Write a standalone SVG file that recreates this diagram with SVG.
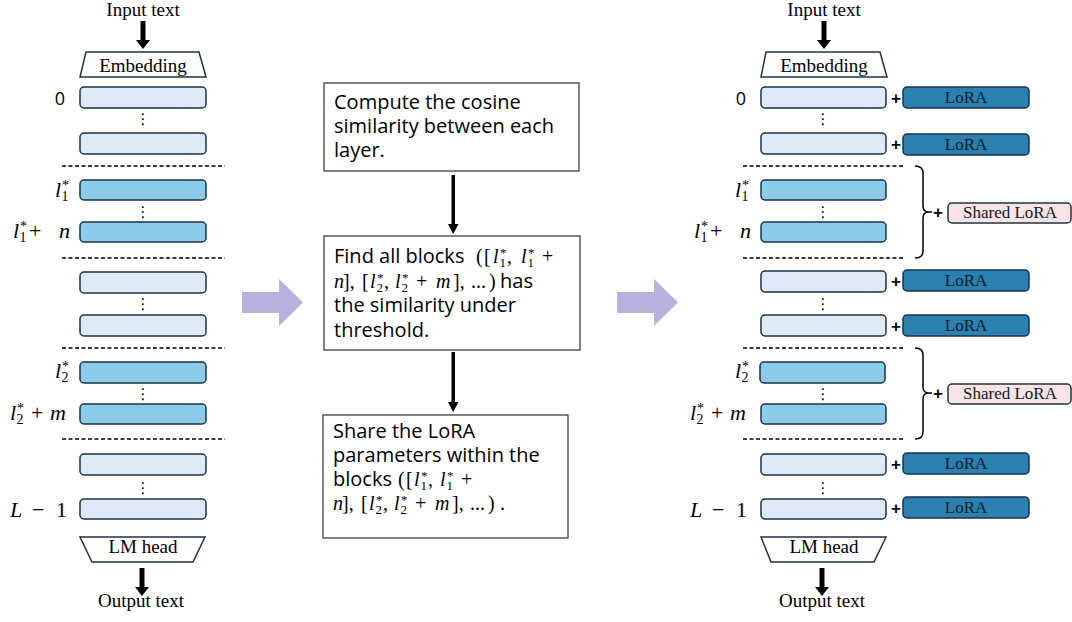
<svg xmlns="http://www.w3.org/2000/svg" width="1072" height="622" viewBox="0 0 1072 622">
<style>
.ser{font-family:"Liberation Serif","Times New Roman",serif;font-size:19px;fill:#000}
.lay{stroke:#1b3347;stroke-width:1.5}
.lt{fill:#dfeaf8}
.md{fill:#8ccbea}
.lora{fill:#2a80b0;stroke:#1b3347;stroke-width:1.5}
.shr{fill:#fce4e4;stroke:#1b3347;stroke-width:1.5}
.lt2{font-family:"Liberation Serif","Times New Roman",serif;font-size:17px;fill:#0c1a28;text-anchor:middle}
.trap{fill:#fff;stroke:#1b3347;stroke-width:1.5}
.dash{stroke:#000;stroke-width:1.3;stroke-dasharray:4 2.5;fill:none}
.dots{font-family:"DejaVu Sans",sans-serif;font-size:15px;text-anchor:middle;fill:#000}
.sans{font-family:"Open Sans","Liberation Sans",sans-serif;font-size:20px;fill:#000}
.num{font-family:"Open Sans","Liberation Sans",sans-serif;font-size:18px;fill:#000}
.m{font-family:"Liberation Serif","Times New Roman",serif;font-size:22px;fill:#000}
.mi{font-style:italic}
.sb{font-size:14px;font-style:normal}
.mb{font-family:"Liberation Serif","Times New Roman",serif;font-size:20px;fill:#000}
.mb .sb{font-size:13px}
.plus{font-family:"Liberation Sans",Arial,sans-serif;font-size:17px;font-weight:bold;fill:#000;text-anchor:middle}
.step{fill:#fff;stroke:#404040;stroke-width:1.3}
.big{fill:#b6b1de}
.brace{fill:none;stroke:#000;stroke-width:1.5}
</style>

<!-- LEFT COLUMN -->
<g id="left-input"><text class="ser" x="143" y="16" text-anchor="middle">Input text</text></g>
<g id="left-embedding"><polygon class="trap" points="86,52 199,52 206,77 80,77"/><text class="ser" x="143" y="72" text-anchor="middle">Embedding</text></g>
<g id="left-layer0"><rect class="lay lt" x="80" y="87" width="126" height="21" rx="4"/><text class="num" x="60" y="105" text-anchor="middle">0</text></g>
<text class="dots" x="143" y="124">⋮</text>
<g id="left-layer1"><rect class="lay lt" x="80" y="133" width="126" height="21" rx="4"/></g>
<g id="left-l1"><rect class="lay md" x="80" y="180" width="126" height="20" rx="4"/>
<text class="m"><tspan class="mi" x="55" y="197">l</tspan><tspan class="sb" x="61.5" y="201">1</tspan><tspan class="sb" x="62" y="190">*</tspan></text></g>
<text class="dots" x="143" y="217">⋮</text>
<g id="left-l1n"><rect class="lay md" x="80" y="222" width="126" height="20" rx="4"/>
<text class="m"><tspan class="mi" x="13" y="238">l</tspan><tspan class="sb" x="19.5" y="242">1</tspan><tspan class="sb" x="20" y="231">*</tspan><tspan x="29" y="238">+</tspan><tspan class="mi" x="59" y="238">n</tspan></text></g>
<g id="left-layer-a"><rect class="lay lt" x="80" y="272" width="126" height="21" rx="4"/></g>
<text class="dots" x="143" y="309">⋮</text>
<g id="left-layer-b"><rect class="lay lt" x="80" y="315" width="126" height="21" rx="4"/></g>
<g id="left-l2"><rect class="lay md" x="80" y="362" width="126" height="21" rx="4"/>
<text class="m"><tspan class="mi" x="55" y="378">l</tspan><tspan class="sb" x="61.5" y="382">2</tspan><tspan class="sb" x="62" y="371">*</tspan></text></g>
<text class="dots" x="143" y="399">⋮</text>
<g id="left-l2m"><rect class="lay md" x="80" y="404" width="126" height="20" rx="4"/>
<text class="m"><tspan class="mi" x="10" y="420">l</tspan><tspan class="sb" x="16.5" y="424">2</tspan><tspan class="sb" x="17" y="413">*</tspan><tspan x="31" y="420">+</tspan><tspan class="mi" x="50" y="420">m</tspan></text></g>
<g id="left-layer-c"><rect class="lay lt" x="80" y="454" width="126" height="21" rx="4"/></g>
<text class="dots" x="143" y="493">⋮</text>
<g id="left-layerL"><rect class="lay lt" x="80" y="499" width="126" height="20" rx="4"/>
<text class="m"><tspan class="mi" x="10" y="517">L</tspan><tspan x="32" y="517">−</tspan><tspan x="56" y="517">1</tspan></text></g>
<g id="left-lmhead"><polygon class="trap" points="80,537 205,537 193,562 92,562"/><text class="ser" x="143" y="553" text-anchor="middle">LM head</text></g>
<g id="left-output"><text class="ser" x="141" y="607" text-anchor="middle">Output text</text></g>

<!-- CENTER STEPS -->
<g id="step1"><rect class="step" x="324" y="83" width="255" height="88"/>
<text class="sans" x="334" y="109">Compute the cosine</text>
<text class="sans" x="334" y="133">similarity between each</text>
<text class="sans" x="334" y="157">layer.</text></g>
<g id="step2"><rect class="step" x="324" y="236" width="256" height="114"/>
<text class="sans" x="334" y="263">Find all blocks</text>
<text class="mb"><tspan x="476" y="263">(</tspan><tspan x="484" y="263">[</tspan><tspan class="mi" x="493" y="263">l</tspan><tspan class="sb" x="499.5" y="267">1</tspan><tspan class="sb" x="500" y="257">*</tspan><tspan x="507" y="263">,</tspan><tspan class="mi" x="521" y="263">l</tspan><tspan class="sb" x="527.5" y="267">1</tspan><tspan class="sb" x="528" y="257">*</tspan><tspan x="542" y="263">+</tspan></text>
<text class="mb"><tspan class="mi" x="334" y="288">n</tspan><tspan x="343" y="288">],</tspan><tspan x="362" y="288">[</tspan><tspan class="mi" x="370" y="288">l</tspan><tspan class="sb" x="376.5" y="292">2</tspan><tspan class="sb" x="377" y="282">*</tspan><tspan x="384" y="288">,</tspan><tspan class="mi" x="395" y="288">l</tspan><tspan class="sb" x="401.5" y="292">2</tspan><tspan class="sb" x="402" y="282">*</tspan><tspan x="416" y="288">+</tspan><tspan class="mi" x="436" y="288">m</tspan><tspan x="453" y="288">],</tspan><tspan x="471" y="288">...</tspan><tspan x="489" y="288">)</tspan></text>
<text class="sans" x="500" y="288">has</text>
<text class="sans" x="334" y="312">the similarity under</text>
<text class="sans" x="334" y="337">threshold.</text></g>
<g id="step3"><rect class="step" x="323" y="415" width="245" height="123"/>
<text class="sans" x="333" y="438">Share the LoRA</text>
<text class="sans" x="333" y="462">parameters within the</text>
<text class="sans" x="333" y="486">blocks</text>
<text class="mb"><tspan x="398" y="486">(</tspan><tspan x="406" y="486">[</tspan><tspan class="mi" x="414" y="486">l</tspan><tspan class="sb" x="420.5" y="490">1</tspan><tspan class="sb" x="421" y="480">*</tspan><tspan x="428" y="486">,</tspan><tspan class="mi" x="440" y="486">l</tspan><tspan class="sb" x="446.5" y="490">1</tspan><tspan class="sb" x="447" y="480">*</tspan><tspan x="461" y="486">+</tspan></text>
<text class="mb"><tspan class="mi" x="333" y="510">n</tspan><tspan x="342" y="510">],</tspan><tspan x="361" y="510">[</tspan><tspan class="mi" x="369" y="510">l</tspan><tspan class="sb" x="375.5" y="514">2</tspan><tspan class="sb" x="376" y="504">*</tspan><tspan x="383" y="510">,</tspan><tspan class="mi" x="394" y="510">l</tspan><tspan class="sb" x="400.5" y="514">2</tspan><tspan class="sb" x="401" y="504">*</tspan><tspan x="415" y="510">+</tspan><tspan class="mi" x="435" y="510">m</tspan><tspan x="452" y="510">],</tspan><tspan x="470" y="510">...</tspan><tspan x="488" y="510">)</tspan><tspan x="500" y="510">.</tspan></text></g>

<!-- RIGHT COLUMN -->
<g id="right-input"><text class="ser" x="824" y="16" text-anchor="middle">Input text</text></g>
<g id="right-embedding"><polygon class="trap" points="766,52 880,52 887,77 761,77"/><text class="ser" x="824" y="72" text-anchor="middle">Embedding</text></g>
<g id="right-layer0"><rect class="lay lt" x="761" y="87" width="125" height="21" rx="4"/><text class="num" x="741" y="105" text-anchor="middle">0</text>
<text class="plus" x="896" y="104">+</text><rect class="lora" x="903" y="87" width="126" height="21" rx="4"/><text class="lt2" x="966" y="103">LoRA</text></g>
<text class="dots" x="823" y="124">⋮</text>
<g id="right-layer1"><rect class="lay lt" x="761" y="133" width="125" height="21" rx="4"/>
<text class="plus" x="896" y="150">+</text><rect class="lora" x="903" y="134" width="126" height="21" rx="4"/><text class="lt2" x="966" y="150">LoRA</text></g>
<g id="right-l1"><rect class="lay md" x="761" y="180" width="125" height="20" rx="4"/>
<text class="m"><tspan class="mi" x="735" y="197">l</tspan><tspan class="sb" x="741.5" y="201">1</tspan><tspan class="sb" x="742" y="190">*</tspan></text></g>
<text class="dots" x="823" y="217">⋮</text>
<g id="right-l1n"><rect class="lay md" x="761" y="222" width="125" height="20" rx="4"/>
<text class="m"><tspan class="mi" x="694" y="238">l</tspan><tspan class="sb" x="700.5" y="242">1</tspan><tspan class="sb" x="701" y="231">*</tspan><tspan x="710" y="238">+</tspan><tspan class="mi" x="740" y="238">n</tspan></text></g>
<g id="right-shared1"><text class="plus" x="938" y="218">+</text><rect class="shr" x="948" y="203" width="123" height="20" rx="4"/><text class="lt2" x="1010" y="218">Shared LoRA</text></g>
<g id="right-layer-a"><rect class="lay lt" x="761" y="271" width="125" height="21" rx="4"/>
<text class="plus" x="896" y="287">+</text><rect class="lora" x="903" y="270" width="126" height="21" rx="4"/><text class="lt2" x="966" y="286">LoRA</text></g>
<text class="dots" x="823" y="309">⋮</text>
<g id="right-layer-b"><rect class="lay lt" x="761" y="315" width="125" height="21" rx="4"/>
<text class="plus" x="896" y="332">+</text><rect class="lora" x="903" y="315" width="126" height="21" rx="4"/><text class="lt2" x="966" y="331">LoRA</text></g>
<g id="right-l2"><rect class="lay md" x="760" y="362" width="125" height="21" rx="4"/>
<text class="m"><tspan class="mi" x="735" y="378">l</tspan><tspan class="sb" x="741.5" y="382">2</tspan><tspan class="sb" x="742" y="371">*</tspan></text></g>
<text class="dots" x="823" y="399">⋮</text>
<g id="right-l2m"><rect class="lay md" x="761" y="404" width="125" height="20" rx="4"/>
<text class="m"><tspan class="mi" x="690" y="420">l</tspan><tspan class="sb" x="696.5" y="424">2</tspan><tspan class="sb" x="697" y="413">*</tspan><tspan x="711" y="420">+</tspan><tspan class="mi" x="730" y="420">m</tspan></text></g>
<g id="right-shared2"><text class="plus" x="938" y="399">+</text><rect class="shr" x="948" y="384" width="123" height="20" rx="4"/><text class="lt2" x="1010" y="399">Shared LoRA</text></g>
<g id="right-layer-c"><rect class="lay lt" x="761" y="454" width="125" height="21" rx="4"/>
<text class="plus" x="896" y="470">+</text><rect class="lora" x="903" y="453" width="126" height="21" rx="4"/><text class="lt2" x="966" y="469">LoRA</text></g>
<text class="dots" x="823" y="493">⋮</text>
<g id="right-layerL"><rect class="lay lt" x="761" y="499" width="125" height="20" rx="4"/>
<text class="m"><tspan class="mi" x="690" y="517">L</tspan><tspan x="712" y="517">−</tspan><tspan x="736" y="517">1</tspan></text>
<text class="plus" x="896" y="514">+</text><rect class="lora" x="903" y="497" width="126" height="21" rx="4"/><text class="lt2" x="966" y="513">LoRA</text></g>
<g id="right-lmhead"><polygon class="trap" points="761,537 886,537 874,562 771,562"/><text class="ser" x="824" y="553" text-anchor="middle">LM head</text></g>
<g id="right-output"><text class="ser" x="822" y="607" text-anchor="middle">Output text</text></g>

<!-- CONNECTORS -->
<g id="connectors">
<polygon points="140.5,21 145.5,21 145.5,40 150,40 143,49 136,40 140.5,40" fill="#000"/>
<polygon points="139.5,568 144.5,568 144.5,587 149,587 142,596 135,587 139.5,587" fill="#000"/>
<polygon points="821.5,21 826.5,21 826.5,40 831,40 824,49 817,40 821.5,40" fill="#000"/>
<polygon points="819.5,568 824.5,568 824.5,587 829,587 822,596 815,587 819.5,587" fill="#000"/>
<polygon points="451.5,175 455,175 455,224 458.5,224 453.2,234 448,224 451.5,224" fill="#000"/>
<polygon points="451.5,352 455,352 455,402 458.5,402 453.2,412 448,402 451.5,402" fill="#000"/>
<polygon class="big" points="242,292 279,292 279,279 303,302.5 279,326 279,313 242,313"/>
<polygon class="big" points="617,292 654,292 654,279 678,302.5 654,326 654,313 617,313"/>
<line class="dash" x1="62" y1="166" x2="225" y2="166"/>
<line class="dash" x1="62" y1="258" x2="225" y2="258"/>
<line class="dash" x1="62" y1="348" x2="225" y2="348"/>
<line class="dash" x1="62" y1="439" x2="225" y2="439"/>
<line class="dash" x1="743" y1="166" x2="905" y2="166"/>
<line class="dash" x1="743" y1="258" x2="905" y2="258"/>
<line class="dash" x1="743" y1="348" x2="905" y2="348"/>
<line class="dash" x1="743" y1="439" x2="905" y2="439"/>
<path class="brace" d="M915,166 Q923,166 923,173 L923,206 Q923,212 929,212 L932,212 M929,212 Q923,212 923,218 L923,251 Q923,258 915,258"/>
<path class="brace" d="M915,348 Q923,348 923,355 L923,387 Q923,393 929,393 L932,393 M929,393 Q923,393 923,399 L923,432 Q923,439 915,439"/>
</g>
</svg>
